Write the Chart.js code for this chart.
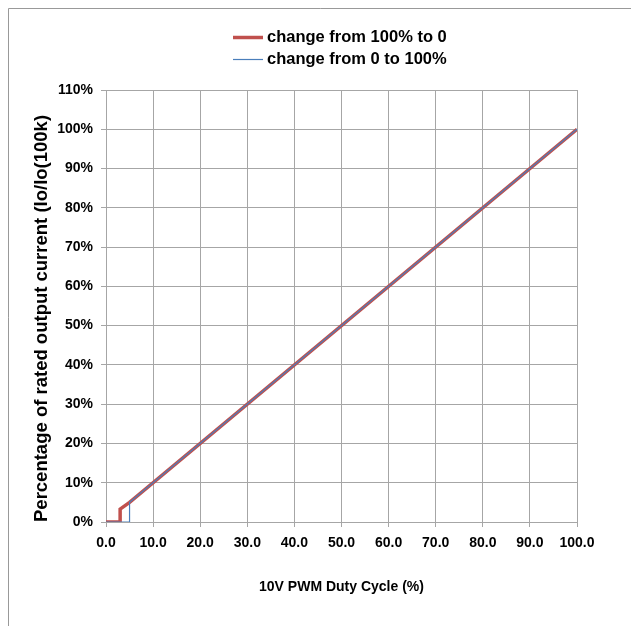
<!DOCTYPE html>
<html><head><meta charset="utf-8">
<script src="https://cdn.jsdelivr.net/npm/chart.js@4"></script>
<style>html,body{margin:0;padding:0;background:#fff}#wrap{width:631px;height:626px;position:relative}</style>
</head><body><div id="wrap"><canvas id="c" width="631" height="626"></canvas></div>
<script>
const seriesNames = ['change from 100% to 0', 'change from 0 to 100%'];
const dutyDown = [0, 3, 3, 5, 100];
const currentDown = [0, 0, 3.3, 5, 100];
const dutyUp = [0, 5, 5, 100];
const currentUp = [0, 0, 5, 100];
const xTickLabels = ['0.0','10.0','20.0','30.0','40.0','50.0','60.0','70.0','80.0','90.0','100.0'];
const yTickLabels = ['0%','10%','20%','30%','40%','50%','60%','70%','80%','90%','100%','110%'];

const FONT = 'Liberation Sans, Arial, sans-serif';
const GRID = '#a6a6a6';
const pts = (xs, ys) => xs.map((x, i) => ({x: x, y: ys[i]}));

const framePlugin = {
  id: 'frame',
  beforeDraw(chart) {
    const ctx = chart.ctx;
    ctx.save();
    ctx.strokeStyle = '#999';
    ctx.lineWidth = 1;
    ctx.beginPath();
    ctx.moveTo(8.5, 640); ctx.lineTo(8.5, 8.5); ctx.lineTo(640, 8.5);
    ctx.stroke();
    ctx.restore();
  }
};

// Legend drawn as two stacked rows, using the datasets' own labels and colours
const legendPlugin = {
  id: 'stackedLegend',
  afterDraw(chart) {
    const ctx = chart.ctx, area = chart.chartArea;
    const ds = chart.data.datasets;
    ctx.save();
    ctx.font = 'bold 16.5px ' + FONT;
    ctx.textBaseline = 'alphabetic';
    ctx.textAlign = 'left';
    const tw = Math.max(...ds.map(d => ctx.measureText(d.label).width));
    const lineLen = 30, gap = 4;
    const cx = (area.left + area.right) / 2 - 2;
    const x0 = Math.round(cx - (lineLen + gap + tw) / 2);
    ds.forEach((d, i) => {
      const base = Math.round(area.top - 48 + i * 21.5);
      ctx.strokeStyle = d.borderColor;
      ctx.lineWidth = d.borderWidth;
      ctx.beginPath();
      ctx.moveTo(x0, base - 4.5);
      ctx.lineTo(x0 + lineLen, base - 4.5);
      ctx.stroke();
      ctx.fillStyle = '#000';
      ctx.fillText(d.label, x0 + lineLen + gap, base);
    });
    ctx.restore();
  }
};

new Chart(document.getElementById('c'), {
  type: 'line',
  data: {
    datasets: [
      {label: seriesNames[0], data: pts(dutyDown, currentDown), borderColor: '#c0504d', backgroundColor: '#c0504d', borderWidth: 3.5, pointRadius: 0, order: 1, tension: 0},
      {label: seriesNames[1], data: pts(dutyUp, currentUp), borderColor: '#4a7ebb', backgroundColor: '#4a7ebb', borderWidth: 1.2, pointRadius: 0, order: 0, tension: 0}
    ]
  },
  options: {
    responsive: false,
    animation: false,
    layout: {padding: {left: 20, right: 54, top: 90, bottom: 22}},
    plugins: {
      tooltip: {enabled: false},
      legend: {display: false}
    },
    scales: {
      x: {
        type: 'linear', min: 0, max: 100,
        afterFit: s => { s.height = 82; },
        afterBuildTicks: s => { s.ticks = xTickLabels.map((t, i) => ({value: i * 10})); },
        ticks: {stepSize: 10, padding: 8, color: '#000', maxRotation: 0,
          font: {family: FONT, size: 14, weight: 'bold'},
          callback: (v, i) => xTickLabels[i]},
        grid: {color: GRID, tickLength: 5, lineWidth: 1},
        border: {color: GRID},
        title: {display: true, text: '10V PWM Duty Cycle (%)', color: '#000',
          font: {family: FONT, size: 14, weight: 'bold'}, padding: {top: 0, bottom: 8}}
      },
      y: {
        type: 'linear', min: 0, max: 110,
        afterFit: s => { s.width = 86; },
        afterBuildTicks: s => { s.ticks = yTickLabels.map((t, i) => ({value: i * 10})); },
        ticks: {stepSize: 10, padding: 8, color: '#000',
          font: {family: FONT, size: 14, weight: 'bold'},
          callback: (v, i) => yTickLabels[i]},
        grid: {color: GRID, tickLength: 5, lineWidth: 1},
        border: {color: GRID},
        title: {display: true, align: 'start', text: 'Percentage of rated output current (Io/Io(100k)', color: '#000',
          font: {family: FONT, size: 18.5, weight: 'bold'}, padding: {top: 11, bottom: 0}}
      }
    }
  },
  plugins: [framePlugin, legendPlugin]
});
</script></body></html>
